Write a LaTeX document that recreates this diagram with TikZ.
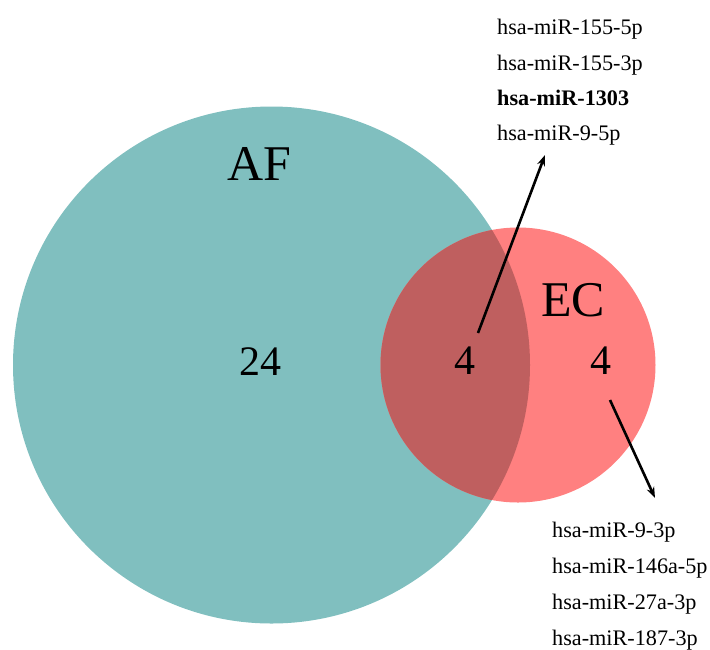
\documentclass[tikz,border=0pt]{standalone}
\usepackage{fontspec}
\setmainfont{Liberation Serif}
\usetikzlibrary{arrows.meta}
\definecolor{afteal}{RGB}{128,191,191}
\definecolor{ecred}{RGB}{255,128,128}
\definecolor{overlapred}{RGB}{191,95,95}
\begin{document}
\begin{tikzpicture}[x=1pt,y=-1pt,
  setlabel/.style={inner sep=0pt, font=\fontsize{50}{50}\selectfont},
  countlabel/.style={inner sep=0pt, font=\fontsize{42}{42}\selectfont},
  mirna/.style={inner sep=0pt, anchor=base west, font=\fontsize{22.2}{22}\selectfont},
  pointer/.style={line width=2.6pt, -{Stealth[length=11pt,width=8pt]}}]
  \useasboundingbox (0,0) rectangle (710,649);
  % the two sets
  \fill[afteal] (271.5,365) circle (258.5);
  \fill[ecred] (518,365) circle (137.5);
  \begin{scope}
    \clip (271.5,365) circle (258.5);
    \fill[overlapred] (518,365) circle (137.5);
  \end{scope}
  % set names and counts
  \node[setlabel] (af) at (259,164) {AF};
  \node[setlabel] (ec) at (573,300) {EC};
  \node[countlabel] (afonly) at (260,362) {24};
  \node[countlabel] (both) at (465,361) {4};
  \node[countlabel] (econly) at (601,361) {4};
  % shared miRNAs
  \node[mirna] (s1) at (497,34) {hsa-miR-155-5p};
  \node[mirna] (s2) at (497,70) {hsa-miR-155-3p};
  \node[mirna] (s3) at (497,105) {\bfseries hsa-miR-1303};
  \node[mirna] (s4) at (497,140) {hsa-miR-9-5p};
  % EC-only miRNAs
  \node[mirna] (e1) at (552,537) {hsa-miR-9-3p};
  \node[mirna] (e2) at (552,573) {hsa-miR-146a-5p};
  \node[mirna] (e3) at (552,609) {hsa-miR-27a-3p};
  \node[mirna] (e4) at (552,645) {hsa-miR-187-3p};
  % pointers from the counts to their lists
  \coordinate (bothstart) at (478,333);
  \coordinate (bothend) at (545,155);
  \coordinate (ecstart) at (610,400);
  \coordinate (ecend) at (655,498);
  \draw[pointer] (bothstart) -- (bothend);
  \draw[pointer] (ecstart) -- (ecend);
\end{tikzpicture}
\end{document}
